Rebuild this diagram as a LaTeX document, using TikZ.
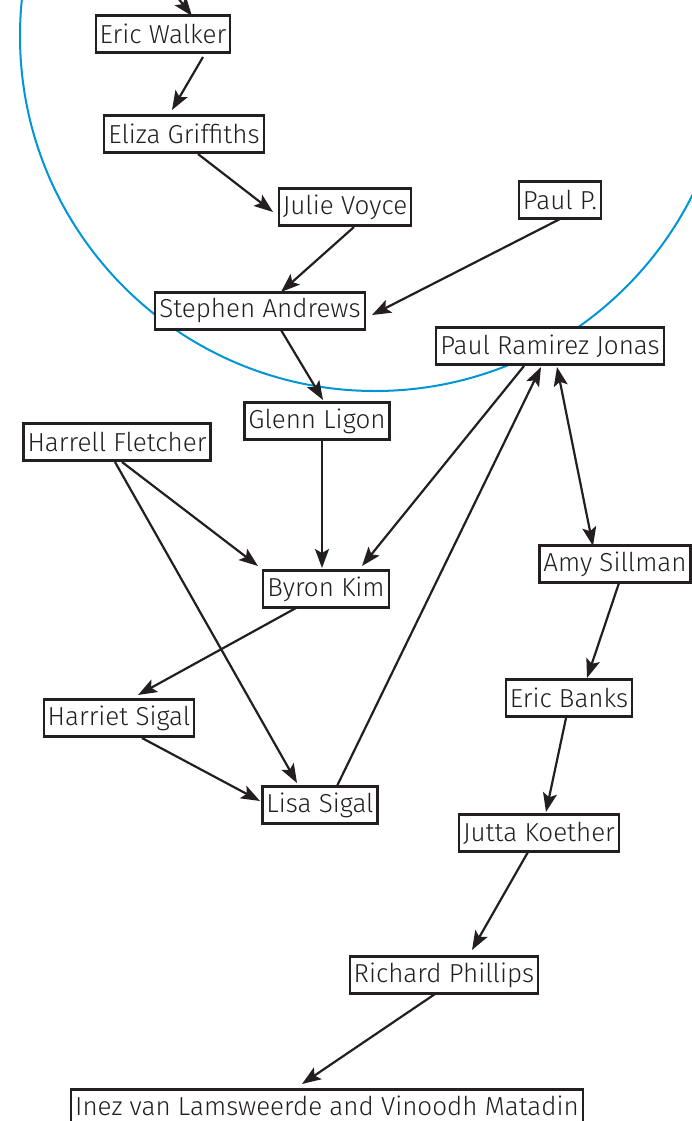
\documentclass[tikz,border=0pt]{standalone}
\usepackage{fontspec}
\setmainfont{Fira Sans}[UprightFont=* Light]
\usetikzlibrary{arrows.meta,calc}
\definecolor{ink}{HTML}{231F20}
\definecolor{ring}{HTML}{0096D6}
\tikzset{
  artist/.style={draw=ink, line width=2.2pt, fill=white, text=ink, minimum height=37pt,
    inner xsep=4pt, inner ysep=0pt, font=\fontsize{26}{28}\selectfont},
  head/.tip={Stealth[length=19pt,width=14pt,inset=4pt]},
  link/.style={draw=ink, line width=2.2pt, -head},
  twoway/.style={draw=ink, line width=2.2pt, head-head}
}

\begin{document}
\begin{tikzpicture}[x=1pt,y=-1pt]
    \useasboundingbox (0,0) rectangle (692,1121);
    \draw[ring, line width=2pt] (375,36) circle[radius=355];

    \node[artist] (walker) at (163,34) {Eric Walker};
    \node[artist] (griffiths) at (184,134) {Eliza Griffiths};
    \node[artist] (voyce) at (345,207) {Julie Voyce};
    \node[artist] (paulp) at (560,200) {Paul P.};
    \node[artist] (andrews) at (260,311) {Stephen Andrews};
    \node[artist] (jonas) at (550,346) {Paul Ramirez Jonas};
    \node[artist] (ligon) at (317,421) {Glenn Ligon};
    \node[artist] (fletcher) at (117,442) {Harrell Fletcher};
    \node[artist] (kim) at (326,589) {Byron Kim};
    \node[artist] (sillman) at (615,564) {Amy Sillman};
    \node[artist] (banks) at (569,698) {Eric Banks};
    \node[artist] (harriet) at (119,718) {Harriet Sigal};
    \node[artist] (lisa) at (320,805) {Lisa Sigal};
    \node[artist] (koether) at (539,833) {Jutta Koether};
    \node[artist] (phillips) at (444,975) {Richard Phillips};
    \node[artist, minimum height=33pt] (inez) at (327,1106) {Inez van Lamsweerde and Vinoodh Matadin};
    \coordinate (offtop) at (178,-2);

    \draw[link] (offtop) -- ($(walker)+(29,-18)$);
    \draw[link] ($(walker)+(40,23)$) -- ($(griffiths)+(-12,-24)$);
    \draw[link] ($(griffiths)+(14,20)$) -- ($(voyce)+(-72,5)$);
    \draw[link] ($(voyce)+(9,20)$) -- ($(andrews)+(21,-19)$);
    \draw[link] ($(paulp)+(0,19)$) -- ($(andrews)+(112,4)$);
    \draw[link] ($(andrews)+(21,19)$) -- ($(ligon)+(6,-21)$);
    \draw[link] ($(ligon)+(5,19)$) -- ($(kim)+(-4,-21)$);
    \draw[link] ($(jonas)+(-26,20)$) -- ($(kim)+(36,-23)$);
    \draw[link] ($(fletcher)+(5,20)$) -- ($(kim)+(-68,-23)$);
    \draw[link] ($(fletcher)+(-2,20)$) -- ($(lisa)+(-23,-22)$);
    \draw[link] ($(kim)+(-30,19)$) -- ($(harriet)+(19,-23)$);
    \draw[link] ($(harriet)+(23,20)$) -- ($(lisa)+(-60,-4)$);
    \draw[link] ($(lisa)+(17,-19)$) -- ($(jonas)+(-9,21)$);
    \draw[twoway] ($(jonas)+(7,21)$) -- ($(sillman)+(-22,-18)$);
    \draw[link] ($(sillman)+(4,19)$) -- ($(banks)+(18,-20)$);
    \draw[link] ($(banks)+(-3,20)$) -- ($(koether)+(7,-21)$);
    \draw[link] ($(koether)+(-11,19)$) -- ($(phillips)+(28,-25)$);
    \draw[link] ($(phillips)+(-9,19)$) -- ($(inez)+(-25,-22)$);
\end{tikzpicture}
\end{document}
